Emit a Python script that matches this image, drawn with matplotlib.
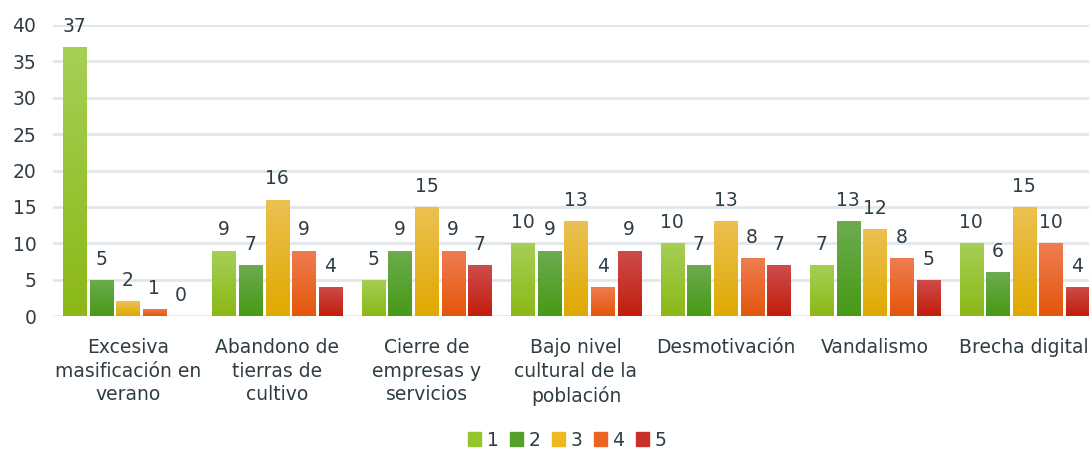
import matplotlib
matplotlib.use("Agg")
import matplotlib.pyplot as plt
from matplotlib.colors import LinearSegmentedColormap
import numpy as np

categories = ["Excesiva\nmasificación en\nverano", "Abandono de\ntierras de\ncultivo",
              "Cierre de\nempresas y\nservicios", "Bajo nivel\ncultural de la\npoblación",
              "Desmotivación", "Vandalismo", "Brecha digital"]
series_names = ["1", "2", "3", "4", "5"]
s1 = [37, 9, 5, 10, 10, 7, 10]
s2 = [5, 7, 9, 9, 7, 13, 6]
s3 = [2, 16, 15, 13, 13, 12, 15]
s4 = [1, 9, 9, 4, 8, 8, 10]
s5 = [0, 4, 7, 9, 7, 5, 4]
series = [s1, s2, s3, s4, s5]

# top / bottom colours for the gradient of each series
grad = [("#a6cf55", "#8bb817"), ("#6dab4f", "#479a16"), ("#ebc152", "#e0a900"),
        ("#ef7d52", "#e4560a"), ("#cd4d4b", "#c21d0c")]
solid = ["#95c52a", "#55a02a", "#eeb81e", "#ec6520", "#c9302a"]

text_col = "#2f3c44"
plt.rcParams['font.family'] = ['DejaVu Sans']

fig = plt.figure(figsize=(10.89, 4.5), dpi=100)
ax = fig.add_axes([53/1089, 1-316/450, 1046/1089, 291/450])

x = np.arange(len(categories))
pitch = 0.178
width = 0.154
grad_img = np.linspace(0, 1, 100).reshape(-1, 1)

for i, vals in enumerate(series):
    pos = x + (i - 2) * pitch
    bars = ax.bar(pos, vals, width, color=solid[i], zorder=2)
    cmap = LinearSegmentedColormap.from_list("g%d" % i, [grad[i][1], grad[i][0]])
    for b, v in zip(bars, vals):
        b.set_facecolor("none")
        b.set_edgecolor("none")
        if v > 0:
            im = ax.imshow(grad_img, cmap=cmap, aspect="auto", origin="lower",
                           extent=[b.get_x(), b.get_x() + b.get_width(), 0, v], zorder=2)
            im.set_clip_path(b)
        ax.annotate(str(v), (b.get_x() + b.get_width() / 2, v), xytext=(0, 8),
                    textcoords="offset points", ha="center", va="bottom",
                    fontsize=13.5, color=text_col)

ax.set_xlim(-0.5, len(categories) - 0.5)
ax.set_ylim(0, 40)
ax.set_yticks(range(0, 41, 5))
ax.set_xticks(x)
ax.set_xticklabels(categories, linespacing=1.3)
ax.tick_params(axis="both", length=0, labelsize=13.5, colors=text_col)
ax.tick_params(axis="x", pad=16)
ax.tick_params(axis="y", pad=12)
ax.yaxis.grid(True, color="#e0e7eb", linewidth=2)
ax.set_axisbelow(True)
for s in ax.spines.values():
    s.set_visible(False)
ax.set_aspect("auto")

handles = [plt.Rectangle((0, 0), 1, 1, color=c) for c in solid]
fig.legend(handles, series_names, loc="center", bbox_to_anchor=(567/1089, 1-440/450),
           ncol=5, frameon=False, fontsize=13.5, handlelength=0.7, handleheight=0.7,
           handletextpad=0.3, columnspacing=0.6, labelcolor=text_col)

fig.savefig("out.png", dpi=100)
